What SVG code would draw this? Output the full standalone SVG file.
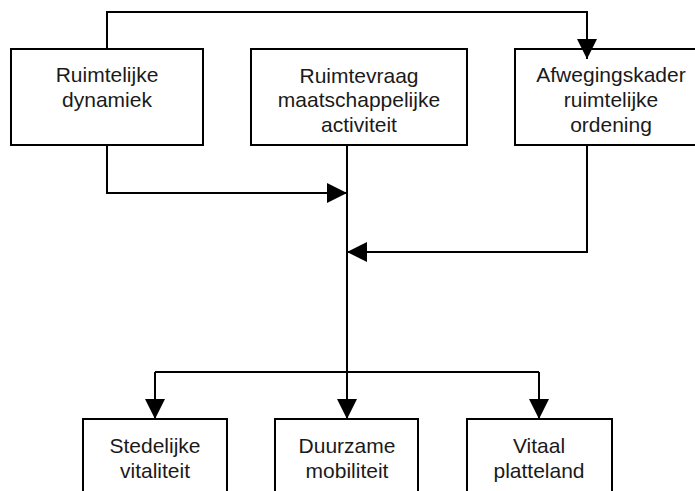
<svg xmlns="http://www.w3.org/2000/svg" width="695" height="491" viewBox="0 0 695 491">
<style>
.box{fill:#fff;stroke:#000;stroke-width:2}
.lbl{font-family:"Liberation Sans",Arial,sans-serif;font-size:21px;fill:#1a1a1a;text-anchor:middle}
.con{fill:none;stroke:#000;stroke-width:2}
</style>
<defs>
<marker id="arr" viewBox="0 0 20 20" refX="20" refY="10" markerWidth="20" markerHeight="20" markerUnits="userSpaceOnUse" orient="auto">
<path d="M0,0 L20,10 L0,20 Z" fill="#000"/>
</marker>
</defs>
<rect width="695" height="491" fill="#fff"/>
<g id="n1">
<rect class="box" x="11" y="49" width="192" height="96"/>
<text class="lbl" x="107" y="82">Ruimtelijke</text>
<text class="lbl" x="107" y="107">dynamiek</text>
</g>
<g id="n2">
<rect class="box" x="251" y="49" width="216" height="96"/>
<text class="lbl" x="359" y="83">Ruimtevraag</text>
<text class="lbl" x="359" y="107">maatschappelijke</text>
<text class="lbl" x="359" y="132">activiteit</text>
</g>
<g id="n3">
<rect class="box" x="515" y="49" width="192" height="96"/>
<text class="lbl" x="611" y="82">Afwegingskader</text>
<text class="lbl" x="611" y="107">ruimtelijke</text>
<text class="lbl" x="611" y="132">ordening</text>
</g>
<g id="n4">
<rect class="box" x="83" y="419" width="144" height="90"/>
<text class="lbl" x="155" y="453">Stedelijke</text>
<text class="lbl" x="155" y="478">vitaliteit</text>
</g>
<g id="n5">
<rect class="box" x="275" y="419" width="143" height="90"/>
<text class="lbl" x="347" y="453">Duurzame</text>
<text class="lbl" x="347" y="478">mobiliteit</text>
</g>
<g id="n6">
<rect class="box" x="467" y="419" width="145" height="90"/>
<text class="lbl" x="539" y="453">Vitaal</text>
<text class="lbl" x="539" y="478">platteland</text>
</g>
<g id="connectors">
<path class="con" d="M107 49 V12 H587 V59" marker-end="url(#arr)"/>
<path class="con" d="M107 145 V193 H347" marker-end="url(#arr)"/>
<path class="con" d="M587 145 V252 H347" marker-end="url(#arr)"/>
<path class="con" d="M347 145 V419" marker-end="url(#arr)"/>
<path class="con" d="M155 372 H539"/>
<path class="con" d="M155 372 V419" marker-end="url(#arr)"/>
<path class="con" d="M539 372 V419" marker-end="url(#arr)"/>
</g>
</svg>
